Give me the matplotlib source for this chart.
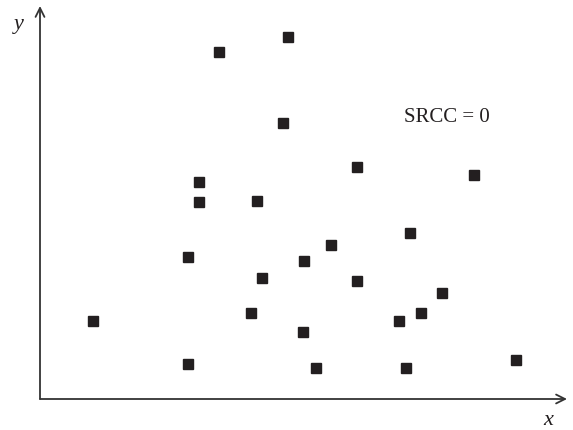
import matplotlib.pyplot as plt

# point positions (arbitrary units, origin at the axes corner)
x_vals = [5.3, 14.8, 14.8, 15.9, 15.9, 17.9, 24.8, 24.3, 21.7, 21.1, 22.2, 26.3,
          26.4, 27.6, 29.1, 31.7, 31.7, 35.9, 36.6, 37.0, 38.1, 40.2, 43.4, 47.6]
y_vals = [7.8, 3.5, 14.2, 21.7, 19.7, 34.7, 36.2, 27.6, 19.8, 8.6, 12.1, 6.7,
          13.8, 3.1, 15.4, 23.2, 11.8, 7.8, 3.1, 16.6, 8.6, 10.6, 22.4, 3.9]
label_text = "SRCC = 0"

fig = plt.figure(figsize=(5.73, 4.31), dpi=100)
ax = fig.add_axes([40 / 573, 31 / 431, 527 / 573, 393 / 431])
ax.set_xlim(0, 52.7)
ax.set_ylim(0, 39.3)
ax.axis("off")

ax.plot(x_vals, y_vals, "s", color="#231f20", markersize=7.9, clip_on=False)

# axes drawn as arrows
arrow = dict(arrowstyle="->", color="#333333", lw=1.3, shrinkA=0, shrinkB=0,
             mutation_scale=16)
ax.annotate("", xy=(1, 0), xytext=(0, 0), xycoords="axes fraction", arrowprops=arrow)
ax.annotate("", xy=(0, 1), xytext=(0, 0), xycoords="axes fraction", arrowprops=arrow)

ax.text(40.7, 28.2, label_text, fontsize=15, family="Liberation Serif",
        ha="center", va="center", color="#231f20")
fig.text(548 / 573, 1 - 421 / 431, "x", fontsize=16, family="Liberation Serif",
         style="italic", ha="center", va="center", color="#231f20")
fig.text(19 / 573, 1 - 25 / 431, "y", fontsize=16, family="Liberation Serif",
         style="italic", ha="center", va="center", color="#231f20")

fig.savefig("out.png", dpi=100)
